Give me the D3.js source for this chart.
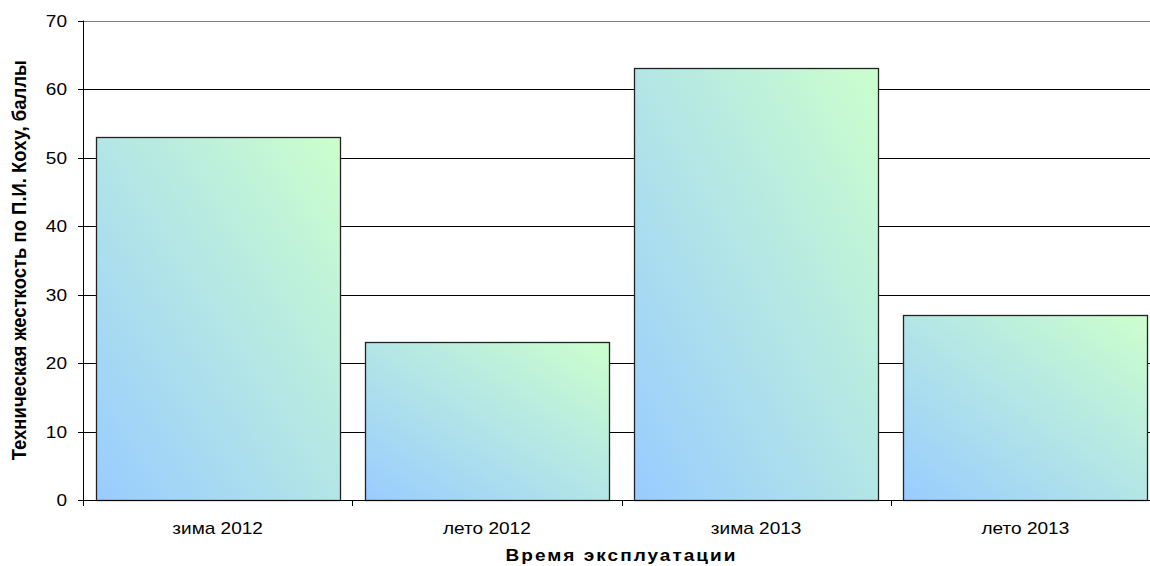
<!DOCTYPE html>
<html>
<head>
<meta charset="utf-8">
<script src="https://cdn.jsdelivr.net/npm/d3@7"></script>
<style>
  body { margin: 0; background: #fff; }
  svg { display: block; font-family: Arial, "Liberation Sans", sans-serif; }
</style>
</head>
<body>
<svg width="1150" height="566"></svg>
<script>
// categories and values
var categories = ['зима 2012', 'лето 2012', 'зима 2013', 'лето 2013']
var values = [53, 23, 63, 27]
var yTicks = [0, 10, 20, 30, 40, 50, 60, 70]

var svg = d3.select('svg')
var margin = { left: 83, top: 20.5, right: 1160, bottom: 500 }
var stretch = 1.12 // the original text looks a bit wider than plain Arial

var x = d3.scaleBand()
    .domain(categories)
    .range([margin.left, margin.right])
    .paddingInner(0.093)
    .paddingOuter(0.0465)

var y = d3.scaleLinear()
    .domain([0, 70])
    .range([margin.bottom, margin.top])

var defs = svg.append('defs')
var grad = defs.append('linearGradient')
    .attr('id', 'barGrad')
    .attr('x1', 0).attr('y1', 1)
    .attr('x2', 1).attr('y2', 0)
grad.append('stop').attr('offset', '0%').attr('stop-color', '#99ccff')
grad.append('stop').attr('offset', '100%').attr('stop-color', '#ccffcc')

// gridlines
svg.append('g')
  .selectAll('line')
    .data(yTicks.filter(function (d) { return d > 0 }))
  .enter().append('line')
    .attr('x1', margin.left)
    .attr('x2', margin.right)
    .attr('y1', function (d) { return Math.round(y(d)) + 0.5 })
    .attr('y2', function (d) { return Math.round(y(d)) + 0.5 })
    .attr('stroke', function (d) { return d === 70 ? '#808080' : '#000' })
    .attr('stroke-width', 1)

// bars
svg.append('g')
  .selectAll('rect')
    .data(values)
  .enter().append('rect')
    .attr('x', function (d, i) { return Math.round(x(categories[i])) + 0.5 })
    .attr('y', function (d) { return Math.round(y(d)) + 0.5 })
    .attr('width', Math.round(x.bandwidth()))
    .attr('height', function (d) { return Math.round(y(0)) - Math.round(y(d)) })
    .attr('fill', 'url(#barGrad)')
    .attr('stroke', '#222')
    .attr('stroke-width', 1.3)

// y axis
var yAxis = svg.append('g')
yAxis.append('line')
    .attr('x1', margin.left + 0.5).attr('x2', margin.left + 0.5)
    .attr('y1', margin.top).attr('y2', margin.bottom + 5)
    .attr('stroke', '#000')
yAxis.selectAll('line.tick')
    .data(yTicks)
  .enter().append('line')
    .attr('class', 'tick')
    .attr('x1', margin.left - 5).attr('x2', margin.left)
    .attr('y1', function (d) { return Math.round(y(d)) + 0.5 })
    .attr('y2', function (d) { return Math.round(y(d)) + 0.5 })
    .attr('stroke', '#000')
yAxis.selectAll('text')
    .data(yTicks)
  .enter().append('text')
    .attr('transform', function (d) { return 'translate(' + (margin.left - 16) + ',' + y(d) + ') scale(' + stretch + ',1)' })
    .attr('dy', '0.36em')
    .attr('text-anchor', 'end')
    .attr('font-size', 17)
    .attr('fill', '#000')
    .text(function (d) { return d })

// x axis
var xAxis = svg.append('g')
xAxis.append('line')
    .attr('x1', margin.left).attr('x2', margin.right)
    .attr('y1', margin.bottom + 0.5).attr('y2', margin.bottom + 0.5)
    .attr('stroke', '#000')
var step = x.step()
xAxis.selectAll('line.tick')
    .data(d3.range(categories.length + 1))
  .enter().append('line')
    .attr('class', 'tick')
    .attr('x1', function (i) { return Math.round(margin.left + i * step) + 0.5 })
    .attr('x2', function (i) { return Math.round(margin.left + i * step) + 0.5 })
    .attr('y1', margin.bottom).attr('y2', margin.bottom + 6)
    .attr('stroke', '#000')
xAxis.selectAll('text')
    .data(categories)
  .enter().append('text')
    .attr('transform', function (d) { return 'translate(' + (x(d) + x.bandwidth() / 2) + ',534) scale(' + stretch + ',1)' })
    .attr('text-anchor', 'middle')
    .attr('font-size', 17)
    .attr('fill', '#000')
    .text(function (d) { return d })

// axis titles
svg.append('text')
    .attr('transform', 'translate(' + (margin.left + margin.right) / 2 + ',561) scale(' + stretch + ',1)')
    .attr('text-anchor', 'middle')
    .attr('font-size', 17)
    .attr('font-weight', 'bold')
    .attr('letter-spacing', 1.8)
    .text('Время эксплуатации')

svg.append('text')
    .attr('transform', 'translate(26,' + (margin.top + margin.bottom) / 2 + ') rotate(-90) scale(1,' + stretch + ')')
    .attr('text-anchor', 'middle')
    .attr('font-size', 18.5)
    .attr('font-weight', 'bold')
    .text('Техническая жесткость по П.И. Коху, баллы')
</script>
</body>
</html>
